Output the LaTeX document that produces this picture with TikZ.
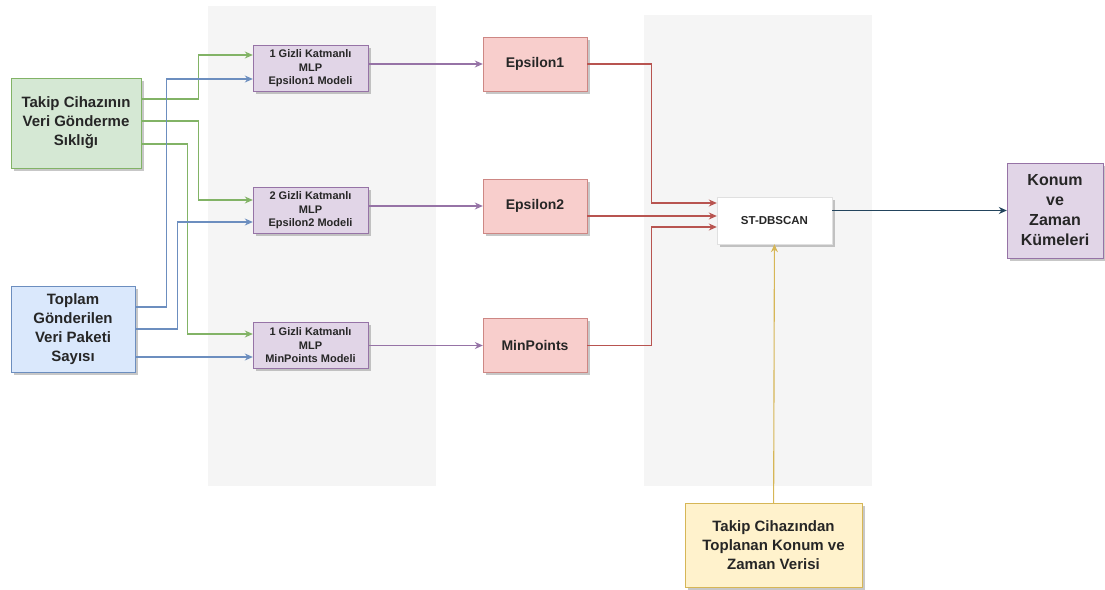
\documentclass[tikz,border=0pt]{standalone}
\usepackage{fontspec}
\setmainfont{Liberation Sans}
\usepackage{tikz}
\usetikzlibrary{arrows.meta,shadows}
\definecolor{grnfill}{HTML}{D5E8D4}\definecolor{grnline}{HTML}{82B366}
\definecolor{bluefill}{HTML}{DAE8FC}\definecolor{blueline}{HTML}{6C8EBF}
\definecolor{purfill}{HTML}{E1D5E7}\definecolor{purline}{HTML}{9673A6}
\definecolor{redfill}{HTML}{F8CECC}\definecolor{redline}{HTML}{B85450}
\definecolor{yelfill}{HTML}{FFF2CC}\definecolor{yelline}{HTML}{D6B656}
\definecolor{darkline}{HTML}{23445D}
\definecolor{panelgray}{HTML}{F5F5F5}
\tikzset{
    box/.style={draw, rectangle, align=center, inner sep=0pt, text=black!85,
        drop shadow={shadow xshift=2.5pt, shadow yshift=-2.5pt, opacity=0.4, fill=black!55}},
    bigtext/.style={font=\fontsize{15}{19}\selectfont\bfseries},
    smalltext/.style={font=\fontsize{11}{13.5}\selectfont\bfseries},
    link/.style={line width=1.1pt, -{Stealth[length=8pt,width=7pt]}},
}

\begin{document}
\begin{tikzpicture}[x=1pt, y=-1pt]
        \useasboundingbox (0,0) rectangle (1105,589);
        % background panels
        \fill[panelgray] (208,6) rectangle (436,486);
        \fill[panelgray] (644,15) rectangle (872,486);

        \node[box, bigtext, fill=grnfill, draw=grnline, minimum width=130pt, minimum height=90pt] (freq) at (76,123) {Takip Cihazının\\Veri Gönderme\\Sıklığı};
        \node[box, bigtext, fill=bluefill, draw=blueline, minimum width=124pt, minimum height=86pt] (total) at (73,329) {Toplam\\Gönderilen\\Veri Paketi\\Sayısı};

        \node[box, smalltext, fill=purfill, draw=purline, minimum width=115pt, minimum height=46pt] (mlpA) at (310.5,68.5) {1 Gizli Katmanlı\\MLP\\Epsilon1 Modeli};
        \node[box, smalltext, fill=purfill, draw=purline, minimum width=115pt, minimum height=46pt] (mlpB) at (310.5,210.5) {2 Gizli Katmanlı\\MLP\\Epsilon2 Modeli};
        \node[box, smalltext, fill=purfill, draw=purline, minimum width=115pt, minimum height=46pt] (mlpC) at (310.5,345.5) {1 Gizli Katmanlı\\MLP\\MinPoints Modeli};

        \node[box, font=\fontsize{14}{17}\selectfont\bfseries, fill=redfill, draw=redline!70, minimum width=104pt, minimum height=54pt] (epsA) at (535,64) {Epsilon1};
        \node[box, font=\fontsize{14}{17}\selectfont\bfseries, fill=redfill, draw=redline!70, minimum width=104pt, minimum height=54pt] (epsB) at (535,206) {Epsilon2};
        \node[box, font=\fontsize{14}{17}\selectfont\bfseries, fill=redfill, draw=redline!70, minimum width=104pt, minimum height=54pt] (minpts) at (535,345.5) {MinPoints};

        \node[box, font=\fontsize{11.5}{14}\selectfont\bfseries, fill=white, draw=black!12, minimum width=115pt, minimum height=47pt] (st) at (774.5,220.5) {ST-DBSCAN};
        \node[box, font=\fontsize{16}{20}\selectfont\bfseries, fill=purfill, draw=purline, minimum width=96pt, minimum height=95pt] (result) at (1055,210.5) {Konum\\ve\\Zaman\\Kümeleri};
        \node[box, bigtext, fill=yelfill, draw=yelline, minimum width=177pt, minimum height=84pt] (src) at (773.5,545) {Takip Cihazından\\Toplanan Konum ve\\Zaman Verisi};

        % inputs to the MLP models
        \draw[link, grnline] ([yshift=24pt]freq.east) -- ++(57,0) |- ([yshift=13.5pt]mlpA.west);
        \draw[link, grnline] ([yshift=2pt]freq.east) -- ++(57,0) |- ([yshift=10.5pt]mlpB.west);
        \draw[link, grnline] ([yshift=-21pt]freq.east) -- ++(46,0) |- ([yshift=11.5pt]mlpC.west);
        \draw[link, blueline] ([yshift=22pt]total.east) -- ++(31,0) |- ([yshift=-10.5pt]mlpA.west);
        \draw[link, blueline] (total.east) -- ++(42,0) |- ([yshift=-11.5pt]mlpB.west);
        \draw[link, blueline] ([yshift=-28pt]total.east) -- ([yshift=-11.5pt]mlpC.west);

        \draw[link, purline] (mlpA.east |- epsA.west) -- (epsA.west);
        \draw[link, purline] (mlpB.east |- epsB.west) -- (epsB.west);
        \draw[link, purline] (mlpC.east |- minpts.west) -- (minpts.west);

        % outputs to ST-DBSCAN
        \draw[link, redline] (epsA.east) -- ++(64,0) |- ([yshift=17.5pt]st.west);
        \coordinate (midB) at ([yshift=-10pt]epsB.east);
        \draw[link, redline] (midB) -- (midB -| st.west);
        \draw[link, redline] (minpts.east) -- ++(64,0) |- ([yshift=-6.5pt]st.west);
        \draw[link, yelline] (src) -- (st);
        \draw[link, darkline] (st.east |- result.west) -- (result.west);
    \end{tikzpicture}
\end{document}
